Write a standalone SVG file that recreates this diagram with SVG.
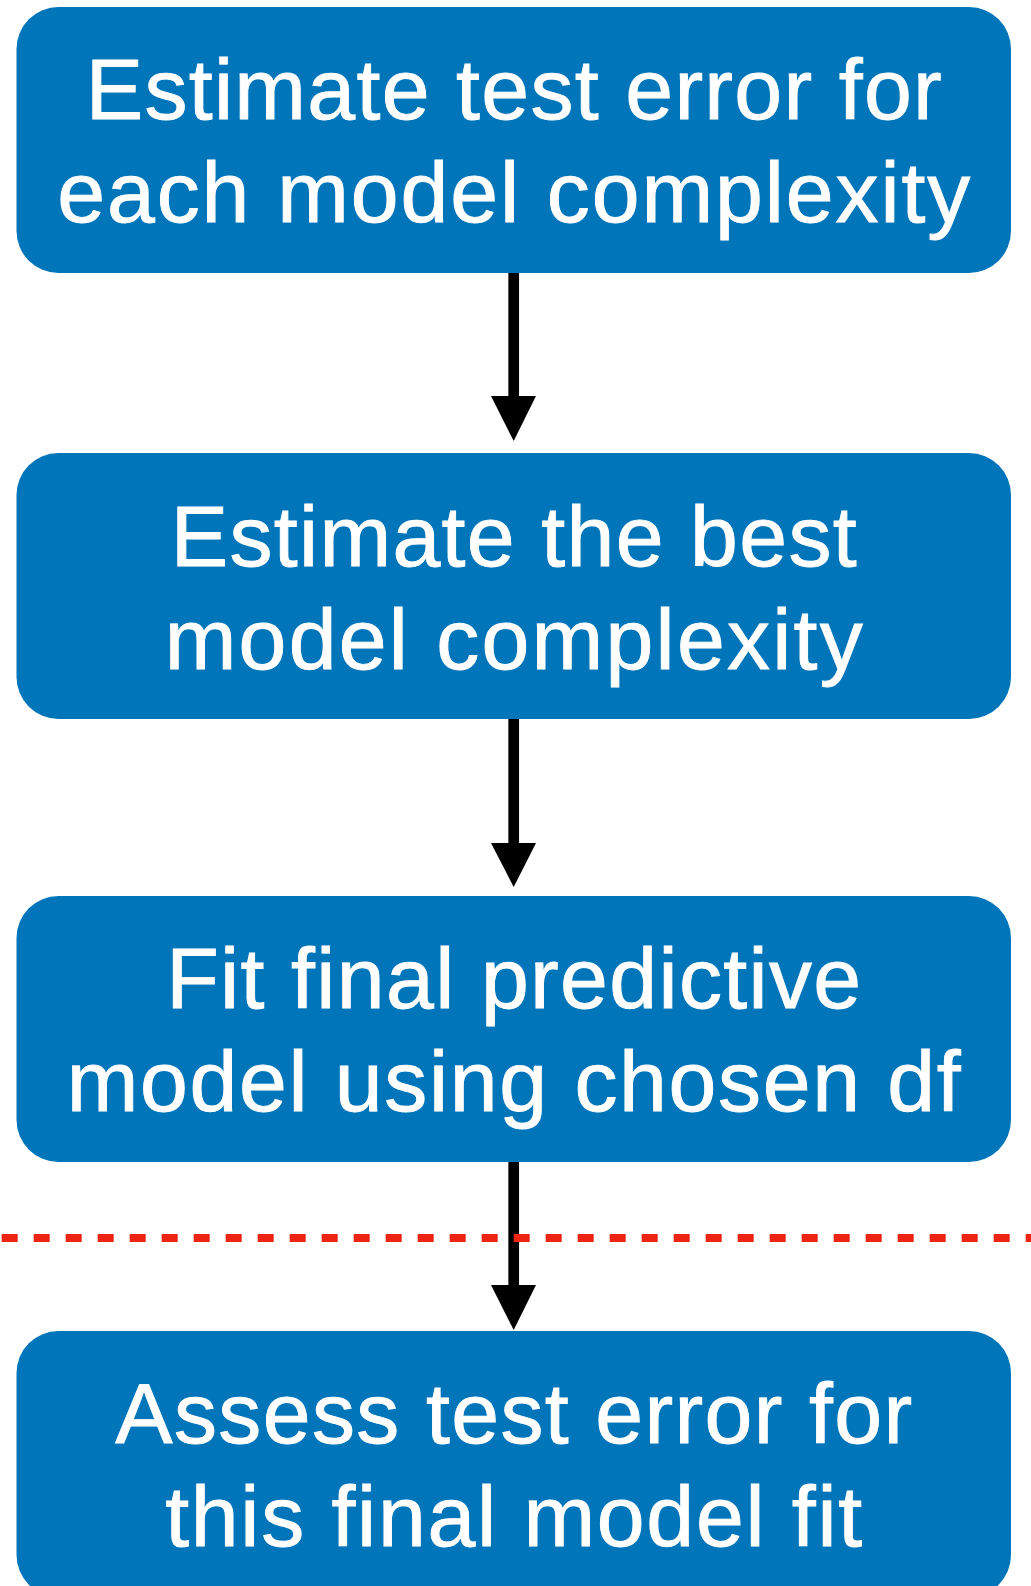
<svg xmlns="http://www.w3.org/2000/svg" width="1031" height="1586" viewBox="0 0 1031 1586">
  <style>
    .box { fill: #0175B9; }
    .label { font-family: "Liberation Sans", Arial, Helvetica, sans-serif; font-size: 86px; fill: #FFFFFF; stroke: #FFFFFF; stroke-width: 0.9; text-anchor: middle; }
    .shaft { stroke: #000000; stroke-width: 10.7; fill: none; }
    .head { fill: #000000; }
    .divider { stroke: #EE2410; stroke-width: 8; stroke-dasharray: 16 16; fill: none; }
  </style>
  <rect width="1031" height="1586" fill="#FFFFFF"/>

  <!-- connectors between the steps -->
  <g id="connectors">
    <line class="shaft" x1="513.7" y1="272" x2="513.7" y2="398"/>
    <polygon class="head" points="491,396 536,396 513.7,441"/>
    <line class="shaft" x1="513.7" y1="718" x2="513.7" y2="845"/>
    <polygon class="head" points="491,843 536,843 513.7,887"/>
    <line class="shaft" x1="513.7" y1="1161" x2="513.7" y2="1287"/>
    <polygon class="head" points="491,1285 536,1285 513.7,1330"/>
  </g>

  <g id="step1">
    <rect class="box" x="16.5" y="7" width="994.5" height="266" rx="42" ry="42"/>
    <text class="label" x="513.7" y="119" textLength="856" lengthAdjust="spacing">Estimate test error for</text>
    <text class="label" x="513.7" y="222" textLength="913" lengthAdjust="spacing">each model complexity</text>
  </g>

  <g id="step2">
    <rect class="box" x="16.5" y="453" width="994.5" height="266" rx="42" ry="42"/>
    <text class="label" x="513.7" y="566" textLength="686" lengthAdjust="spacing">Estimate the best</text>
    <text class="label" x="513.7" y="669" textLength="698" lengthAdjust="spacing">model complexity</text>
  </g>

  <g id="step3">
    <rect class="box" x="16.5" y="896" width="994.5" height="266" rx="42" ry="42"/>
    <text class="label" x="513.7" y="1008" textLength="695" lengthAdjust="spacing">Fit final predictive</text>
    <text class="label" x="513.7" y="1111" textLength="894" lengthAdjust="spacing">model using chosen df</text>
  </g>

  <g id="step4">
    <rect class="box" x="16.5" y="1331" width="994.5" height="266" rx="42" ry="42"/>
    <text class="label" x="513.7" y="1443" textLength="797" lengthAdjust="spacing">Assess test error for</text>
    <text class="label" x="513.7" y="1546" textLength="697" lengthAdjust="spacing">this final model fit</text>
  </g>

  <!-- dashed separator, drawn over the last connector -->
  <g id="separator">
    <line class="divider" x1="1.7" y1="1238" x2="1031" y2="1238"/>
  </g>
</svg>
